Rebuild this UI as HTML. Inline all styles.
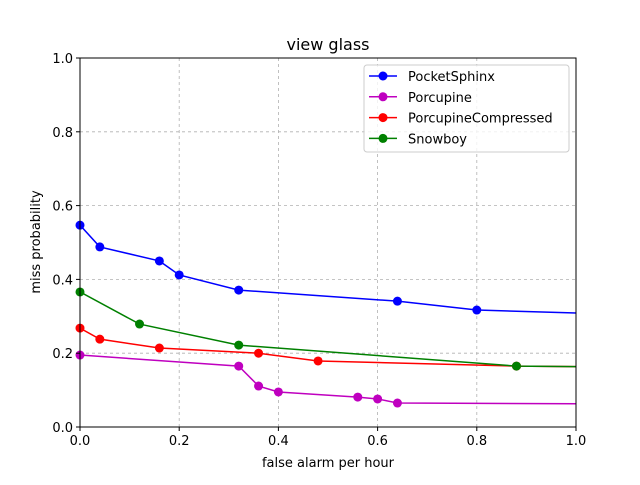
<!DOCTYPE html>
<html><head><meta charset="utf-8"><style>
body{margin:0;background:#fff;}
svg text{font-family:"DejaVu Sans","Liberation Sans",sans-serif;fill:#000;}
</style></head><body>
<svg id="chart" width="640" height="480" xmlns="http://www.w3.org/2000/svg">
<defs><clipPath id="clip"><rect x="80" y="58" width="496" height="369"/></clipPath></defs>
<rect width="640" height="480" fill="#fff"/>
<g id="grid"></g>
<g id="lines" clip-path="url(#clip)"></g>
<g id="markers"></g>
<rect x="80" y="58" width="496" height="369" fill="none" stroke="#000" stroke-width="1"/>
<g id="ticks"></g>
<text x="328" y="50" font-size="16" text-anchor="middle">view glass</text>
<text x="328" y="467" font-size="13" text-anchor="middle">false alarm per hour</text>
<text x="0" y="0" font-size="13" text-anchor="middle" transform="translate(40,242) rotate(-90)">miss probability</text>
<g id="legend"></g>
</svg>
<script>
const seriesNames = ["PocketSphinx","Porcupine","PorcupineCompressed","Snowboy"];
const seriesColors = ["#0000ff","#bf00bf","#ff0000","#008000"];
const xPocketSphinx = [0,0.04,0.16,0.2,0.32,0.64,0.8,1.28];
const yPocketSphinx = [0.547,0.488,0.450,0.412,0.371,0.341,0.317,0.298];
const xPorcupine = [0,0.32,0.36,0.4,0.56,0.6,0.64,1.5];
const yPorcupine = [0.195,0.165,0.111,0.095,0.081,0.076,0.065,0.060];
const xPorcupineCompressed = [0,0.04,0.16,0.36,0.48,0.88,1.3];
const yPorcupineCompressed = [0.268,0.238,0.214,0.200,0.179,0.165,0.160];
const xSnowboy = [0,0.12,0.32,0.88,1.3];
const ySnowboy = [0.366,0.279,0.222,0.165,0.160];
const xTicks = ["0.0","0.2","0.4","0.6","0.8","1.0"];
const yTicks = ["0.0","0.2","0.4","0.6","0.8","1.0"];

const NS="http://www.w3.org/2000/svg";
const X0=80,X1=576,Y0=427,Y1=58;
function sx(v){return X0+v*(X1-X0);}
function sy(v){return Y0-v*(Y0-Y1);}
function mk(tag,attrs,parent){const e=document.createElementNS(NS,tag);for(const k in attrs)e.setAttribute(k,attrs[k]);parent.appendChild(e);return e;}
const grid=document.getElementById('grid'),ticks=document.getElementById('ticks');
xTicks.forEach(t=>{const v=parseFloat(t),x=sx(v);
 const g=mk('line',{x1:x,x2:x,y1:Y1,y2:Y0,stroke:'#b0b0b0','stroke-dasharray':'3,3','stroke-width':0.8},grid);
 
 
 const tk=mk('line',{x1:x,x2:x,y1:Y0,y2:Y0+4,stroke:'#000'},ticks);
 
 
 const tx=mk('text',{x:x,y:Y0+18,'font-size':13,'text-anchor':'middle'},ticks);tx.textContent=t;
 
 
});
yTicks.forEach(t=>{const v=parseFloat(t),y=sy(v);
 const g=mk('line',{x1:X0,x2:X1,y1:y,y2:y,stroke:'#b0b0b0','stroke-dasharray':'3,3','stroke-width':0.8},grid);
 
 
 const tk=mk('line',{x1:X0-4,x2:X0,y1:y,y2:y,stroke:'#000'},ticks);
 
 
 const tx=mk('text',{x:X0-7,y:y+5,'font-size':13,'text-anchor':'end'},ticks);tx.textContent=t;
 
 
});
const xs=[xPocketSphinx,xPorcupine,xPorcupineCompressed,xSnowboy];
const ys=[yPocketSphinx,yPorcupine,yPorcupineCompressed,ySnowboy];
const lines=document.getElementById('lines'),markers=document.getElementById('markers');
seriesNames.forEach((n,i)=>{
 const pts=xs[i].map((x,j)=>sx(x)+','+sy(ys[i][j])).join(' ');
 const pl=mk('polyline',{points:pts,fill:'none',stroke:seriesColors[i],'stroke-width':1.5},lines);
 
 
 xs[i].forEach((x,j)=>{if(x>1.001)return;
  const c=mk('circle',{cx:sx(x),cy:sy(ys[i][j]),r:4.5,fill:seriesColors[i]},markers);
  
  
 });
});
const lg=document.getElementById('legend');
const box=mk('rect',{x:364,y:65,width:205,height:87,rx:3,fill:'#fff','fill-opacity':0.8,stroke:'#ccc'},lg);


seriesNames.forEach((n,i)=>{const y=76+i*20.8;
 const l=mk('line',{x1:369,x2:397,y1:y,y2:y,stroke:seriesColors[i],'stroke-width':1.5},lg);
 
 
 const c=mk('circle',{cx:383,cy:y,r:4.5,fill:seriesColors[i]},lg);
 
 
 const t=mk('text',{x:408,y:y+5,'font-size':13},lg);t.textContent=n;
 
 
});
</script>
</body></html>
